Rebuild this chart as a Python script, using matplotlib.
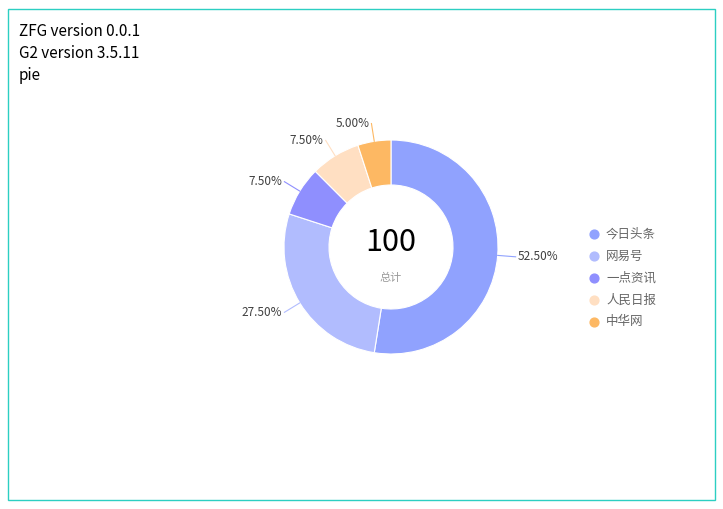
import numpy as np
import matplotlib
matplotlib.use('Agg')
import matplotlib.pyplot as plt
from matplotlib.patches import Rectangle

plt.rcParams['font.family'] = ['Noto Sans CJK SC', 'DejaVu Sans']

names = ['今日头条', '网易号', '一点资讯', '人民日报', '中华网']
values = [52.5, 27.5, 7.5, 7.5, 5.0]
colors = ['#90A2FE', '#B1BCFE', '#8F8FFE', '#FFDFC2', '#FDB863']
total = 100

W, H = 723, 509
fig = plt.figure(figsize=(W / 100, H / 100), dpi=100)
ax = fig.add_axes([0, 0, 1, 1])
ax.set_xlim(0, W)
ax.set_ylim(0, H)
ax.axis('off')

ax.add_patch(Rectangle((8, 9), 707, 491, fill=False, edgecolor='#2CCFC2', lw=1))

cx, cy, r = 391, H - 247, 107
wedges, _ = ax.pie(values, colors=colors, center=(cx, cy), radius=r,
                   startangle=90, counterclock=False,
                   wedgeprops=dict(width=45, edgecolor='white', linewidth=0.8),
                   frame=True)
ax.set_xlim(0, W)
ax.set_ylim(0, H)
ax.set_aspect('equal')
ax.axis('off')

for w, v, c in zip(wedges, values, colors):
    a = np.deg2rad((w.theta1 + w.theta2) / 2)
    x0, y0 = cx + r * np.cos(a), cy + r * np.sin(a)
    x1, y1 = cx + (r + 18) * np.cos(a), cy + (r + 18) * np.sin(a)
    ax.plot([x0, x1], [y0, y1], color=c, lw=0.8)
    ha = 'left' if np.cos(a) >= 0 else 'right'
    ax.text(x1 + (2 if ha == 'left' else -2), y1, f'{v:.2f}%', ha=ha, va='center',
            fontsize=8.5, color='#404040')

ax.text(cx, cy + 5, str(total), ha='center', va='center', fontsize=22, color='black')
ax.text(cx, cy - 31, '总计', ha='center', va='center', fontsize=8, color='#999999')

for i, (n, c) in enumerate(zip(names, colors)):
    yy = H - 234 - i * 22
    ax.scatter([594], [yy], s=40, color=c)
    ax.text(606, yy, n, ha='left', va='center', fontsize=9, color='#666666')

for i, t in enumerate(['ZFG version 0.0.1', 'G2 version 3.5.11', 'pie']):
    ax.text(19, H - 31 - i * 22, t, ha='left', va='center', fontsize=11, color='black')

fig.savefig('out.png', dpi=100)
